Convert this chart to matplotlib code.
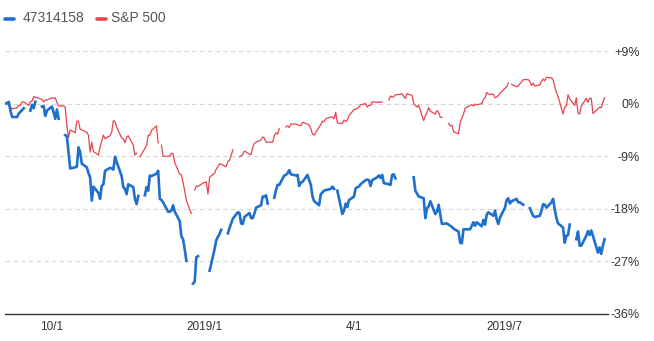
import numpy as np
import pandas as pd
import matplotlib
matplotlib.use("Agg")
import matplotlib.pyplot as plt
from matplotlib.lines import Line2D

n = np.nan

# trading days (Mon-Fri), 2018-09-03 .. 2019-08-30, no row for 2019-01-01
dates = pd.bdate_range("2018-09-03", "2019-08-30")
dates = dates[dates != pd.Timestamp("2019-01-01")]

# % change, one row per week
fund = [
    0.0, 0.1, 0.3, -1.2, -2.3,
    -2.3, -1.7, -1.4, -1.1, -0.8,
    n, -1.2, -0.2, -0.8, 0.3,
    n, -0.5, -0.4, -2.1, -1.2,
    -0.5, -1.5, -2.6, -1.0, -2.6,
    n, -5.4, -5.6, -8.3, -11.1,
    -10.9, -10.8, -7.5, -8.3, -10.3,
    -10.9, -11.9, -12.6, -16.6, -14.2,
    -15.3, -16.3, -14.1, -13.8, -11.5,
    -11.0, -11.1, -11.3, -9.1, -10.0,
    -12.4, -14.3, -14.6, -15.5, -13.8,
    -14.3, -16.3, -17.2, -15.8, n,
    -15.7, -14.3, -14.9, -12.3, -12.4,
    -12.0, -11.5, -16.3, -16.5, -16.9,
    -18.5, -18.5, -18.3, -17.4, -18.5,
    -20.1, -22.7, -23.2, -24.9, -26.9,
    n, -30.8, -30.5, -26.3, -26.1,
    n, n, n, -28.6,
    -24.9, -23.4, -22.8, -22.3, -21.6,
    n, -22.2, -21.3, -20.5, -19.7,
    -18.6, -18.7, -20.5, -20.6, -19.4,
    -18.7, -19.6, -19.6, -18.8, -17.8,
    -17.4, -15.9, -15.9, -15.7, -17.1,
    n, -16.1, -14.8, -13.9, -13.9,
    -12.3, -12.2, -11.9, -11.4, -12.1,
    -12.3, -12.2, -14.1, -13.5, -13.4,
    -12.2, -13.1, -13.9, -15.9, -16.7,
    -17.4, -15.5, -15.2, -14.9, -14.8,
    -14.6, -14.2, -14.6, n, -14.9,
    -18.9, -18.3, -17.1, -17.7, -16.5,
    -15.9, -14.5, -14.3, -14.2, -13.8,
    -13.1, -13.0, -13.1, -14.1, -13.1,
    -12.6, -12.3, -12.7, -12.2, -13.6,
    -13.8, -13.9, -12.2, -12.1, -12.8,
    n, n, n, n, n,
    n, -12.6, -14.9, -15.4, -15.9,
    -16.2, -19.6, -17.9, -17.6, -16.7,
    -18.9, -18.5, -17.3, -19.0, -20.6,
    -20.5, -20.7, -20.9, -21.1, -21.4,
    -21.9, -23.8, -23.9, -21.5, -21.5,
    -21.5, -20.9, -20.3, -20.9, -20.3,
    -21.0, -19.9, -20.7, -19.0, -18.6,
    -19.2, -18.3, -19.8, -20.6, -19.5,
    -17.8, -16.5, -16.2, -17.1, -16.7,
    -16.3, -16.9, -16.9, -17.1, -17.3,
    n, -17.9, -18.6, -19.2, -19.4,
    -19.2, -18.3, -17.2, -17.3, -17.8,
    -16.9, -16.3, -18.1, -19.6, -20.5,
    -21.2, -23.8, -22.6, -22.5, -20.7,
    n, -23.2, -21.9, -24.3, -24.3,
    -22.6, -21.8, -22.5, -21.7, -22.6,
    -25.5, -24.6, -25.7, -24.3, -23.2,
]

sp500 = [
    n, 0.0, -0.3, -0.6, -0.9,
    -0.7, -0.3, -0.3, 0.3, 0.3,
    -0.3, 0.3, 0.4, 1.2, 1.1,
    0.8, 0.7, 0.3, 0.6, 0.6,
    1.0, 0.9, 1.0, 0.2, -0.4,
    -0.4, -0.6, -3.8, -5.8, -4.5,
    -5.0, -3.0, -3.0, -4.4, -4.5,
    -4.9, -5.4, -8.3, -6.6, -8.2,
    -8.8, -7.4, -6.4, -5.4, -6.0,
    -5.5, -4.9, -2.9, -3.1, -4.0,
    -5.9, -6.0, -6.7, -5.7, -5.5,
    -7.1, -8.8, -8.5, n, -9.1,
    -7.7, -7.2, -5.4, -5.4, -4.6,
    -3.8, -6.7, n, -7.1, -9.0,
    -9.0, -9.0, -8.5, -8.6, -10.1,
    -12.1, -12.2, -13.5, -14.9, -16.6,
    -18.8, n, -14.8, -14.1, -14.2,
    -13.6, -13.4, -15.5, -12.6,
    -11.9, -11.2, -10.8, -10.3, -10.4,
    -10.8, -9.9, -9.7, -8.9, -7.9,
    n, -9.1, -8.9, -8.7, -8.1,
    -8.7, -8.7, -7.5, -6.8, -6.6,
    -6.2, -5.7, -5.9, -6.6, -6.6,
    -6.6, -5.5, -5.0, -5.2, -4.3,
    n, -4.0, -3.8, -4.1, -3.5,
    -3.5, -3.6, -3.7, -3.8, -3.2,
    -3.5, -3.7, -4.3, -5.2, -5.4,
    -4.0, -3.6, -3.0, -3.1, -2.6,
    -2.3, -2.3, -2.6, -1.5, -3.3,
    -3.4, -2.8, -3.1, -2.8, -2.1,
    -1.0, -1.0, -0.8, -0.6, -0.2,
    0.0, -0.6, -0.3, -0.3, 0.3,
    0.2, 0.3, 0.2, 0.3, n,
    0.6, 1.3, 1.1, 1.2, 1.5,
    1.6, 1.7, 1.2, 0.9, 1.7,
    1.4, 0.0, -0.3, -0.6, -0.3,
    -2.9, -2.1, -1.5, -0.7, -1.3,
    -1.8, -1.2, -1.5, -2.3, -2.4,
    n, -3.4, -3.8, -3.7, -4.8,
    -5.2, -3.3, -2.5, -1.8, -0.8,
    -0.3, -0.2, -0.4, -0.1, -0.2,
    0.0, 0.7, 1.0, 1.9, 1.6,
    1.6, 1.0, 1.1, 1.4, 1.8,
    2.6, 2.9, 3.5, n, 3.3,
    2.9, 3.0, 3.4, 3.7, 4.1,
    4.1, 3.8, 3.1, 3.5, 3.0,
    3.2, 3.8, 4.2, 3.9, 4.5,
    4.4, 4.1, 2.9, 1.9, 1.2,
    -1.8, -0.6, -0.4, 1.5, 0.8,
    -0.3, 1.0, -1.6, -1.8, -0.4,
    0.9, 0.2, 0.9, 0.9, -1.7,
    -0.9, -0.6, -0.7, 0.2, 1.0,
]

yticks = [-36, -27, -18, -9, 0, 9]
ytick_labels = ["-36%", "-27%", "-18%", "-9%", "0%", "+9%"]
xticks = pd.to_datetime(["2018-10-01", "2019-01-01", "2019-04-01", "2019-07-01"])
xtick_labels = ["10/1", "2019/1", "4/1", "2019/7"]
names = ["47314158", "S&P 500"]

blue = "#1f6fcd"
red = "#e8434f"

plt.rcParams["font.family"] = ["Liberation Sans", "DejaVu Sans"]

fig = plt.figure(figsize=(6.54, 3.41), dpi=100)
ax = fig.add_axes([5 / 654, 27 / 341, 603 / 654, 263 / 341])

ax.plot(dates, sp500, color=red, lw=0.9, zorder=3)
ax.plot(dates, fund, color=blue, lw=1.9, zorder=4)

ax.set_ylim(-36, 9)
ax.set_xlim(pd.Timestamp("2018-09-02 17:00"), pd.Timestamp("2019-09-01 02:00"))

ax.set_yticks(yticks)
ax.set_yticklabels(ytick_labels)
ax.set_xticks(xticks)
ax.set_xticklabels(xtick_labels)

ax.yaxis.tick_right()
ax.tick_params(axis="y", length=0, pad=23, labelsize=9, labelcolor="#333333")
for lab in ax.get_yticklabels():
    lab.set_horizontalalignment("right")
ax.tick_params(axis="x", length=0, pad=5, labelsize=8.5, labelcolor="#333333")

ax.grid(axis="y", color="#d5d5d5", lw=0.8, ls=(0, (4, 3)))
ax.grid(axis="x", visible=False)
for s in ["top", "left", "right"]:
    ax.spines[s].set_visible(False)
ax.spines["bottom"].set_color("#333333")
ax.spines["bottom"].set_linewidth(1.0)
ax.spines["bottom"].set_zorder(5)

# legend
ly = 1 - 18.5 / 341
fig.add_artist(Line2D([5 / 654, 13.5 / 654], [ly, ly], color=blue, lw=2.6,
                      solid_capstyle="round"))
fig.text(22.5 / 654, ly, names[0], fontsize=10, color="#555555", va="center")
fig.add_artist(Line2D([96.5 / 654, 105.5 / 654], [ly, ly], color=red, lw=2.6,
                      solid_capstyle="round"))
fig.text(111.5 / 654, ly, names[1], fontsize=10, color="#555555", va="center")

fig.savefig("out.png", dpi=100)
